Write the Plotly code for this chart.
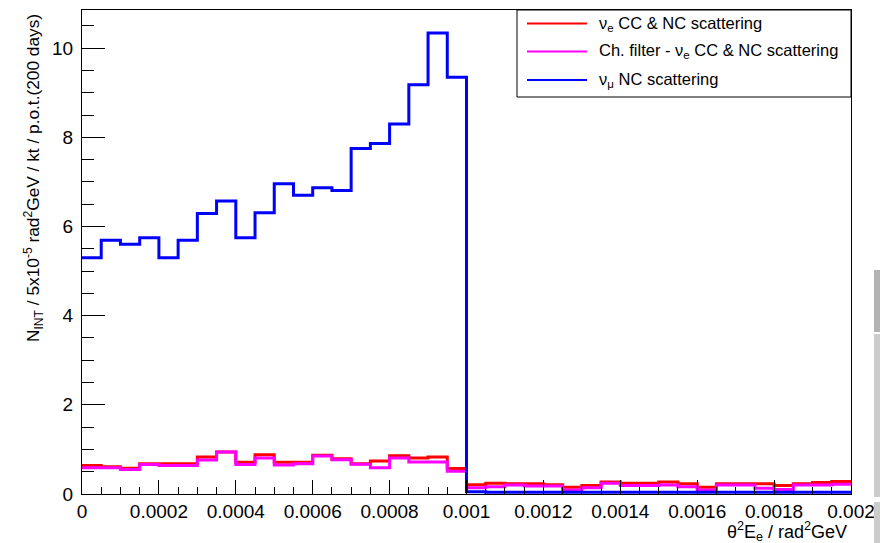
import numpy as np
import plotly.graph_objects as go

# Histogram binning: 40 bins over theta^2 E_e in [0, 0.002] rad^2 GeV
n_bins = 40
x_min, x_max = 0.0, 0.002
bin_edges = np.linspace(x_min, x_max, n_bins + 1)

# Interactions per bin (per kt, per p.o.t., 200 days)
nue_cc_nc = [0.64, 0.61, 0.58, 0.68, 0.68, 0.68, 0.83, 0.94, 0.71, 0.88,
             0.71, 0.71, 0.87, 0.79, 0.68, 0.74, 0.86, 0.81, 0.83, 0.57,
             0.21, 0.24, 0.23, 0.23, 0.21, 0.15, 0.19, 0.27, 0.24, 0.24,
             0.27, 0.23, 0.15, 0.23, 0.23, 0.23, 0.19, 0.23, 0.26, 0.28]
chfilter_nue_cc_nc = [0.59, 0.59, 0.55, 0.66, 0.64, 0.64, 0.76, 0.94, 0.66, 0.81,
                      0.65, 0.68, 0.85, 0.77, 0.67, 0.59, 0.81, 0.72, 0.72, 0.51,
                      0.14, 0.16, 0.20, 0.18, 0.18, 0.09, 0.14, 0.24, 0.19, 0.19,
                      0.20, 0.16, 0.09, 0.20, 0.20, 0.13, 0.10, 0.20, 0.20, 0.22]
numu_nc = [5.30, 5.69, 5.60, 5.75, 5.30, 5.69, 6.29, 6.57, 5.75, 6.31,
           6.96, 6.70, 6.87, 6.81, 7.75, 7.86, 8.30, 9.18, 10.34, 9.35,
           0.05, 0.04, 0.04, 0.04, 0.04, 0.04, 0.04, 0.04, 0.04, 0.04,
           0.04, 0.04, 0.04, 0.04, 0.04, 0.04, 0.04, 0.04, 0.04, 0.04]

series = [
    ("ν<sub>e</sub> CC & NC scattering", nue_cc_nc, "#ff0000"),
    ("Ch. filter - ν<sub>e</sub> CC & NC scattering", chfilter_nue_cc_nc, "#ff00ff"),
    ("ν<sub>μ</sub> NC scattering", numu_nc, "#0000ff"),
]

y_max = 1.05 * max(numu_nc)

W, H = 880, 543
ml, mr, mt, mb = 82, 29, 10, 49
pw, ph = W - ml - mr, H - mt - mb


def px(xp):
    return (xp - ml) / pw


def py(yp):
    return (H - mb - yp) / ph


fig = go.Figure()
for name, vals, color in series:
    fig.add_trace(go.Scatter(
        x=bin_edges,
        y=list(vals) + [vals[-1]],
        mode="lines",
        line=dict(color=color, width=3, shape="hv"),
        name=name,
        showlegend=False,
        hoverinfo="skip",
    ))

font_family = "Liberation Sans, Arial, Helvetica, sans-serif"

fig.update_layout(
    width=W, height=H,
    margin=dict(l=ml, r=mr, t=mt, b=mb, autoexpand=False),
    paper_bgcolor="white",
    plot_bgcolor="white",
    font=dict(family=font_family, color="black"),
    xaxis=dict(
        range=[x_min, x_max],
        automargin=False,
        tickmode="array",
        tickvals=[0, 0.0002, 0.0004, 0.0006, 0.0008, 0.001, 0.0012, 0.0014, 0.0016, 0.0018, 0.002],
        ticktext=["0", "0.0002", "0.0004", "0.0006", "0.0008", "0.001",
                  "0.0012", "0.0014", "0.0016", "0.0018", "0.002"],
        ticks="inside", ticklen=14, tickcolor="black", tickwidth=1,
        minor=dict(ticks="inside", ticklen=7, dtick=0.00005, tickcolor="black", tickwidth=1),
        showgrid=False, zeroline=False,
        showline=True, linecolor="black", linewidth=1, mirror=True,
        tickfont=dict(size=19, family=font_family, color="black"),
        ticklabelstandoff=0,
    ),
    yaxis=dict(
        range=[0, y_max],
        automargin=False,
        dtick=2, tick0=0,
        ticks="inside", ticklen=23, tickcolor="black", tickwidth=1,
        minor=dict(ticks="inside", ticklen=12, dtick=0.5, tickcolor="black", tickwidth=1),
        showgrid=False, zeroline=False,
        showline=True, linecolor="black", linewidth=1, mirror=True,
        tickfont=dict(size=19, family=font_family, color="black"),
        ticklabelstandoff=4,
    ),
)

# Axis titles (right/top aligned, ROOT style)
fig.add_annotation(
    xref="paper", yref="paper", x=px(849), y=py(531),
    xanchor="right", yanchor="middle", showarrow=False,
    text="θ<sup>2</sup>E<sub>e</sub> / rad<sup>2</sup>GeV",
    font=dict(size=18, family=font_family, color="black"),
)
fig.add_annotation(
    xref="paper", yref="paper", x=px(33), y=py(12),
    xanchor="center", yanchor="top", showarrow=False, textangle=-90,
    text="N<sub>INT</sub> / 5x10<sup>-5</sup> rad<sup>2</sup>GeV / kt / p.o.t.(200 days)",
    font=dict(size=17.3, family=font_family, color="black"),
)

# Legend box
fig.add_shape(type="rect", xref="paper", yref="paper",
              x0=px(517), x1=px(851), y0=py(97), y1=py(10),
              line=dict(color="black", width=1), fillcolor="white", layer="above")
rows_y = [23.5, 51.5, 80]
for (name, _, color), ry in zip(series, rows_y):
    fig.add_shape(type="line", xref="paper", yref="paper",
                  x0=px(527), x1=px(587), y0=py(ry), y1=py(ry),
                  line=dict(color=color, width=2), layer="above")
    fig.add_annotation(xref="paper", yref="paper", x=px(597), y=py(ry),
                       xanchor="left", yanchor="middle", showarrow=False,
                       text=name, font=dict(size=16.5, family=font_family, color="black"))

# Window scrollbar strip along the right edge
fig.add_shape(type="rect", xref="paper", yref="paper",
              x0=px(874), x1=px(880), y0=py(332), y1=py(270),
              line=dict(width=0), fillcolor="#b3b3b3", layer="above")
fig.add_shape(type="rect", xref="paper", yref="paper",
              x0=px(874), x1=px(880), y0=py(497), y1=py(334),
              line=dict(width=0), fillcolor="#cccccc", layer="above")
fig.add_shape(type="rect", xref="paper", yref="paper",
              x0=px(874), x1=px(880), y0=py(543), y1=py(502),
              line=dict(width=0), fillcolor="#cccccc", layer="above")

fig.write_html("out.html")
